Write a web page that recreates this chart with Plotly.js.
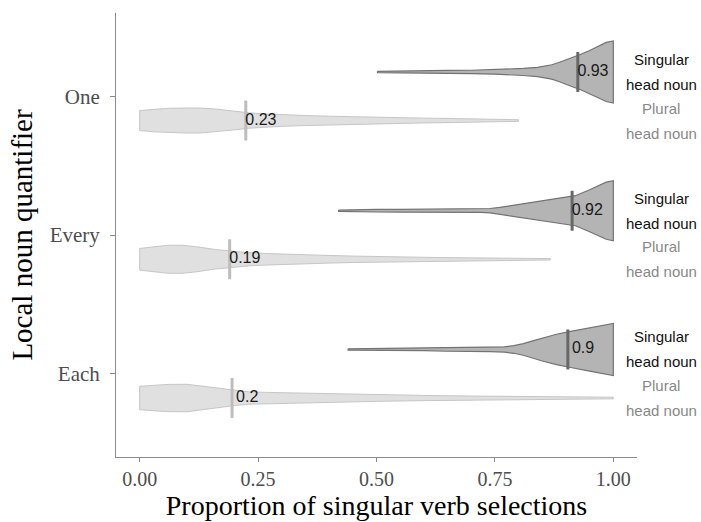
<!DOCTYPE html>
<html>
<head>
<meta charset="utf-8">
<script src="https://cdn.plot.ly/plotly-3.0.1.min.js"></script>
<style>html,body{margin:0;padding:0;background:#fff;}#chart{width:701px;height:522px;}</style>
</head>
<body>
<div id="chart"></div>
<script>
// ---- data ----
const quantifiers = ["Each", "Every", "One"];          // y categories (bottom to top)
const catPos = [1, 2, 3];
const xTickVals = [0, 0.25, 0.5, 0.75, 1];
const xTickText = ["0.00", "0.25", "0.50", "0.75", "1.00"];

// mean proportions (lines) and their printed labels
const meanSingular = [0.904, 0.913, 0.925];
const meanPlural = [0.195, 0.19, 0.224];
const labelSingular = ["0.9", "0.92", "0.93"];
const labelPlural = ["0.2", "0.19", "0.23"];

// density profiles (x grid and relative density)
const singEachX = [0.44,0.50,0.55,0.60,0.65,0.70,0.74,0.77,0.79,0.81,0.83,0.85,0.88,0.91,0.95,0.98,1.0];
const singEachD = [0.6,1.0,1.1,1.2,1.8,2.1,2.1,2.6,3.8,5.8,8.6,11.5,15.2,18,21.7,24.5,26];
const singEveryX = [0.42,0.45,0.50,0.55,0.60,0.65,0.70,0.72,0.74,0.76,0.78,0.80,0.84,0.88,0.92,0.95,0.97,0.985,1.0];
const singEveryD = [0.6,1.1,1.3,1.4,1.6,1.7,1.5,1.6,2.2,3.3,4.8,6.3,9.3,12,15,21,25,28.5,30];
const singOneX = [0.502,0.55,0.60,0.65,0.70,0.75,0.78,0.81,0.84,0.87,0.885,0.90,0.915,0.93,0.95,0.97,0.985,1.0];
const singOneD = [0.6,1.1,1.3,1.5,1.7,2.2,2.8,3.5,4.6,7.2,9.5,12,15,17.5,21.5,26,29.5,31];

const plurEachX = [0.0,0.03,0.06,0.10,0.13,0.16,0.20,0.23,0.27,0.30,0.35,0.40,0.45,0.50,0.60,0.70,0.80,0.90,1.0];
const plurEachD = [11.7,12.8,13.6,13.7,12,9.7,7.5,6.2,5.6,5.3,4.8,4.2,3.7,3.3,2.6,2.0,1.5,1.1,0.8];
const plurEveryX = [0.0,0.03,0.06,0.09,0.12,0.16,0.20,0.23,0.27,0.30,0.35,0.40,0.45,0.50,0.56,0.62,0.68,0.74,0.80,0.867];
const plurEveryD = [10.8,12.5,14,14,12.5,9.7,7.8,6.6,5.7,5.1,4.4,3.8,3.2,2.6,2.1,1.8,1.5,1.2,1.0,0.7];
const plurOneX = [0.0,0.03,0.06,0.10,0.13,0.16,0.20,0.23,0.27,0.30,0.35,0.40,0.45,0.50,0.55,0.60,0.66,0.72,0.77,0.80];
const plurOneD = [10,11.3,12.2,12.5,12.4,11.5,9.3,7.7,6.5,5.8,5.0,4.3,3.7,3.2,2.8,2.4,2.0,1.6,1.2,0.8];

const singLabelLines = ["Singular", "head noun"];
const plurLabelLines = ["Plural", "head noun"];

// ---- styling ----
const DODGE = 0.175;
const DENS_SCALE = 1 / 138.5;
const MEAN_HALF = 0.144;
const LABEL_DX = 0.032;
const singFill = "#b4b4b4", singLine = "#737373", singMean = "#686868";
const plurFill = "#e0e0e0", plurLine = "#c6c6c6", plurMean = "#bdbdbd";

const singX = [singEachX, singEveryX, singOneX];
const singD = [singEachD, singEveryD, singOneD];
const plurX = [plurEachX, plurEveryX, plurOneX];
const plurD = [plurEachD, plurEveryD, plurOneD];

function violin(xs, ds, c, fill, line, lw) {
  const px = [], py = [];
  for (let i = 0; i < xs.length; i++) { px.push(xs[i]); py.push(c + ds[i] * DENS_SCALE); }
  for (let i = xs.length - 1; i >= 0; i--) { px.push(xs[i]); py.push(c - ds[i] * DENS_SCALE); }
  px.push(px[0]); py.push(py[0]);
  return {type: "scatter", mode: "lines", x: px, y: py, fill: "toself", fillcolor: fill,
          line: {color: line, width: lw}, hoverinfo: "skip", showlegend: false};
}

const traces = [];
for (let i = 0; i < catPos.length; i++) {
  traces.push(violin(plurX[i], plurD[i], catPos[i] - DODGE, plurFill, plurLine, 1));
  traces.push(violin(singX[i], singD[i], catPos[i] + DODGE, singFill, singLine, 1.2));
}
function meanLines(means, sign, color) {
  const x = [], y = [];
  means.forEach((m, i) => { const c = catPos[i] + sign * DODGE; x.push(m, m, null); y.push(c - MEAN_HALF, c + MEAN_HALF, null); });
  return {type: "scatter", mode: "lines", x, y, line: {color, width: 3}, hoverinfo: "skip", showlegend: false};
}
traces.push(meanLines(meanPlural, -1, plurMean));
traces.push(meanLines(meanSingular, 1, singMean));
function meanText(means, labels, sign) {
  return {type: "scatter", mode: "text", x: means.map(m => m + LABEL_DX), y: catPos.map(c => c + sign * DODGE),
          text: labels, textposition: "middle center", cliponaxis: false,
          textfont: {family: "Liberation Sans, Arial, sans-serif", size: 16, color: "#1a1a1a"},
          hoverinfo: "skip", showlegend: false};
}
traces.push(meanText(meanPlural, labelPlural, -1));
traces.push(meanText(meanSingular, labelSingular, 1));

const annotations = [];
catPos.forEach(c => {
  [[singLabelLines, c + DODGE, "#111111"], [plurLabelLines, c - DODGE, "#888888"]].forEach(([lines, yc, col]) => {
    lines.forEach((t, j) => annotations.push({
      xref: "paper", yref: "y", x: 1.047, y: yc, yshift: j === 0 ? 12.5 : -12.5,
      text: t, showarrow: false, xanchor: "center", yanchor: "middle",
      font: {family: "Liberation Sans, Arial, sans-serif", size: 15, color: col}
    }));
  });
});

const serif = "Liberation Serif, Times New Roman, serif";
const layout = {
  width: 701, height: 522,
  margin: {l: 116, r: 64, t: 13, b: 65, pad: 0},
  paper_bgcolor: "#ffffff", plot_bgcolor: "#ffffff",
  showlegend: false,
  xaxis: {range: [-0.05, 1.05], tickvals: xTickVals, ticktext: xTickText,
          showline: true, linecolor: "#8c8c8c", linewidth: 1, ticks: "outside", ticklen: 4, tickcolor: "#8c8c8c",
          showgrid: false, zeroline: false, tickfont: {family: serif, size: 20, color: "#4d4d4d"},
          title: {text: "Proportion of singular verb selections", font: {family: serif, size: 28, color: "#000"}, standoff: 6}},
  yaxis: {range: [0.4, 3.6], tickvals: catPos, ticktext: quantifiers, ticklabelstandoff: 6,
          showline: true, linecolor: "#8c8c8c", linewidth: 1, ticks: "outside", ticklen: 5, tickcolor: "#8c8c8c",
          showgrid: false, zeroline: false, tickfont: {family: serif, size: 21, color: "#4d4d4d"},
          title: {text: "Local noun quantifier", font: {family: serif, size: 29, color: "#000"}, standoff: 8}},
  annotations
};
Plotly.newPlot("chart", traces, layout, {displayModeBar: false, staticPlot: true});
</script>
</body>
</html>
